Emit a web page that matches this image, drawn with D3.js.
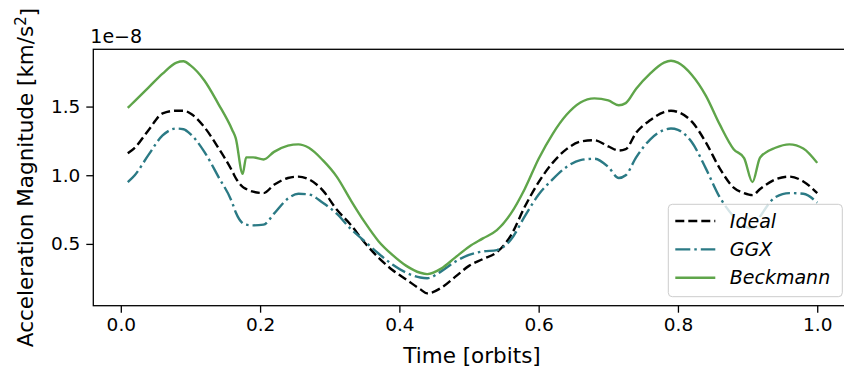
<!DOCTYPE html>
<html>
<head>
<meta charset="utf-8">
<script src="https://cdn.jsdelivr.net/npm/d3@7"></script>
<style>
  body { margin: 0; background: #fff; }
  svg { font-family: "DejaVu Sans", sans-serif; }
</style>
</head>
<body>
<svg></svg>
<script>
const width = 844;
const height = 371;

// time in orbits, shared by the three series
const time = [0.01, 0.02, 0.04, 0.06, 0.08, 0.09, 0.10, 0.12, 0.14, 0.16, 0.165, 0.175, 0.18, 0.19,
    0.205, 0.22, 0.24, 0.255, 0.27, 0.29, 0.31, 0.33, 0.35, 0.37, 0.39, 0.41, 0.43, 0.44, 0.46,
    0.48, 0.50, 0.52, 0.54, 0.56, 0.58, 0.60, 0.62, 0.64, 0.66, 0.68, 0.70, 0.715, 0.725, 0.74,
    0.76, 0.78, 0.79, 0.80, 0.82, 0.84, 0.86, 0.88, 0.895, 0.907, 0.918, 0.94, 0.96, 0.98, 1.00];

// acceleration magnitude, units of 1e-8 km/s^2
const ideal = [1.16, 1.20, 1.33, 1.45, 1.47, 1.47, 1.45, 1.35, 1.20, 1.03, 0.98, 0.915, 0.90, 0.88,
    0.87, 0.93, 0.98, 0.99, 0.97, 0.89, 0.75, 0.64, 0.51, 0.40, 0.31, 0.24, 0.17, 0.14, 0.18,
    0.26, 0.34, 0.39, 0.44, 0.56, 0.77, 0.95, 1.09, 1.19, 1.245, 1.255, 1.21, 1.18, 1.19, 1.31,
    1.40, 1.46, 1.47, 1.46, 1.39, 1.24, 1.05, 0.91, 0.87, 0.855, 0.90, 0.97, 0.99, 0.955, 0.87];

const ggx = [0.95, 1.00, 1.15, 1.29, 1.34, 1.335, 1.30, 1.17, 0.99, 0.80, 0.73, 0.65, 0.64, 0.635,
    0.64, 0.72, 0.83, 0.865, 0.86, 0.80, 0.72, 0.61, 0.52, 0.43, 0.35, 0.29, 0.255, 0.25, 0.30,
    0.37, 0.42, 0.445, 0.455, 0.53, 0.70, 0.86, 0.97, 1.06, 1.11, 1.12, 1.06, 0.98, 1.00, 1.13,
    1.26, 1.33, 1.34, 1.33, 1.24, 1.05, 0.84, 0.70, 0.63, 0.61, 0.70, 0.84, 0.87, 0.865, 0.80];

const beckmann = [1.49, 1.54, 1.64, 1.74, 1.82, 1.83, 1.80, 1.69, 1.52, 1.33, 1.27, 1.01, 1.13, 1.13,
    1.115, 1.17, 1.215, 1.225, 1.20, 1.11, 0.99, 0.82, 0.66, 0.52, 0.42, 0.34, 0.29, 0.28, 0.32,
    0.40, 0.48, 0.54, 0.60, 0.72, 0.90, 1.12, 1.30, 1.44, 1.53, 1.56, 1.545, 1.51, 1.525, 1.63,
    1.74, 1.82, 1.834, 1.82, 1.73, 1.58, 1.37, 1.19, 1.125, 0.95, 1.13, 1.20, 1.225, 1.195, 1.09];

const xTicks = [0.0, 0.2, 0.4, 0.6, 0.8, 1.0];
const yTicks = [0.5, 1.0, 1.5];

const series = [
    { name: "Ideal", values: ideal, color: "#000000", dash: "9,4" },
    { name: "GGX", values: ggx, color: "#2b7a85", dash: "15,4,2.5,4" },
    { name: "Beckmann", values: beckmann, color: "#5fa54a", dash: null }
];

const margin = { top: 49.3, right: -7.7, bottom: 65.3, left: 93.3 };
const plotW = width - margin.left - margin.right;
const plotH = height - margin.top - margin.bottom;

const svg = d3.select("svg")
    .attr("width", width)
    .attr("height", height);

const x = d3.scaleLinear().domain([-0.0395, 1.0495]).range([0, plotW]);
const y = d3.scaleLinear().domain([0.05, 1.917]).range([plotH, 0]);

const g = svg.append("g")
    .attr("transform", `translate(${margin.left},${margin.top})`);

g.append("clipPath").attr("id", "clip")
    .append("rect").attr("width", plotW).attr("height", plotH);

const line = d3.line()
    .x((d, i) => x(time[i]))
    .y(d => y(d))
    .curve(d3.curveMonotoneX);

g.append("g")
    .attr("clip-path", "url(#clip)")
    .selectAll("path")
    .data(series)
    .enter().append("path")
    .attr("d", d => line(d.values))
    .attr("fill", "none")
    .attr("stroke", d => d.color)
    .attr("stroke-width", 2.4)
    .attr("stroke-dasharray", d => d.dash);

// axes
const xAxis = g.append("g")
    .attr("transform", `translate(0,${plotH})`)
    .call(d3.axisBottom(x).tickValues(xTicks).tickFormat(d3.format(".1f")).tickSizeOuter(0).tickSize(7).tickPadding(5));

const yAxis = g.append("g")
    .call(d3.axisLeft(y).tickValues(yTicks).tickFormat(d3.format(".1f")).tickSizeOuter(0).tickSize(7).tickPadding(6));

[xAxis, yAxis].forEach(a => {
    a.select(".domain").remove();
    a.selectAll("line").attr("stroke", "#000").attr("stroke-width", 1.3);
    a.selectAll("text").attr("font-size", 18.5).attr("fill", "#000")
        .attr("font-family", "DejaVu Sans");
});

// spines
g.append("rect")
    .attr("width", plotW)
    .attr("height", plotH)
    .attr("fill", "none")
    .attr("stroke", "#000")
    .attr("stroke-width", 1.3);

// offset text
g.append("text")
    .attr("x", -3)
    .attr("y", -6)
    .attr("font-size", 19)
    .text("1e\u22128");

// axis labels
svg.append("text")
    .attr("x", 472)
    .attr("y", 363)
    .attr("text-anchor", "middle")
    .attr("font-size", 21.5)
    .text("Time [orbits]");

const yl = svg.append("text")
    .attr("transform", `translate(33,${margin.top + plotH / 2}) rotate(-90)`)
    .attr("text-anchor", "middle")
    .attr("font-size", 21.5);
yl.append("tspan").text("Acceleration Magnitude [km/s");
yl.append("tspan").attr("dy", "-0.45em").attr("font-size", 15).text("2");
yl.append("tspan").attr("dy", "0.45em").text("]");

// legend
const leg = svg.append("g").attr("transform", "translate(668.3,204.3)");
leg.append("rect")
    .attr("width", 174)
    .attr("height", 92.4)
    .attr("rx", 4)
    .attr("fill", "#fff")
    .attr("fill-opacity", 0.8)
    .attr("stroke", "#cccccc")
    .attr("stroke-width", 1);

const item = leg.selectAll("g.item")
    .data(series)
    .enter().append("g")
    .attr("class", "item")
    .attr("transform", (d, i) => `translate(0,${16.7 + i * 28.4})`);

item.append("line")
    .attr("x1", 7).attr("x2", 47)
    .attr("stroke", d => d.color)
    .attr("stroke-width", 2.4)
    .attr("stroke-dasharray", d => d.dash);

item.append("text")
    .attr("x", 61.5)
    .attr("dy", "0.35em")
    .attr("font-size", 19)
    .attr("font-style", "italic")
    .text(d => d.name);
</script>
</body>
</html>
